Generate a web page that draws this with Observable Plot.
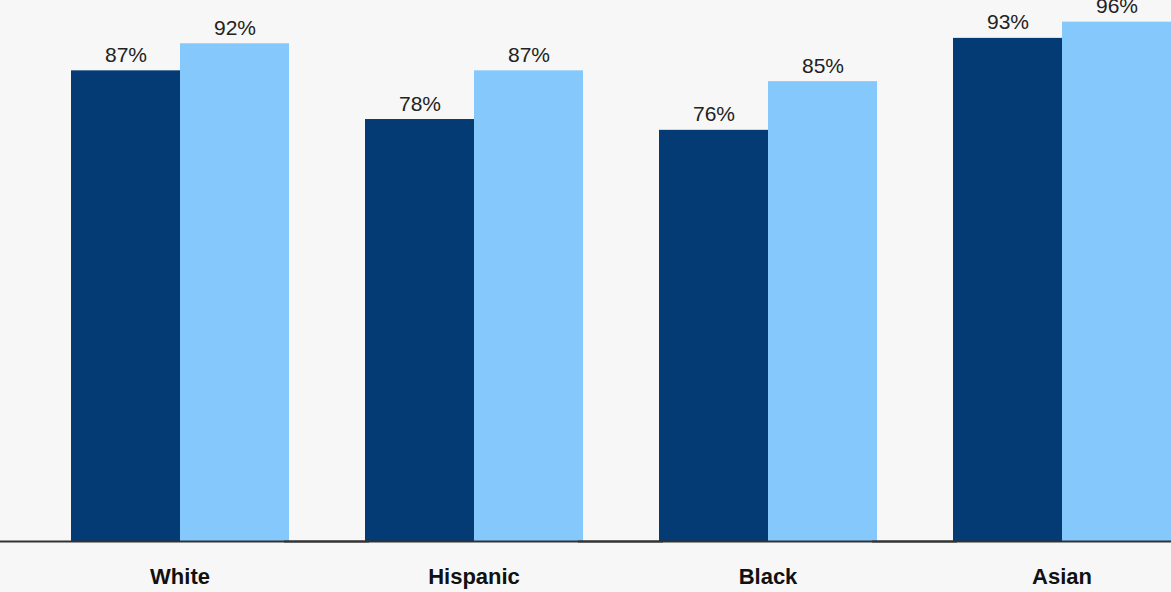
<!DOCTYPE html>
<html>
<head>
<meta charset="utf-8">
<script src="https://cdn.jsdelivr.net/npm/d3@7"></script>
<script src="https://cdn.jsdelivr.net/npm/@observablehq/plot@0.6"></script>
<style>
  html, body { margin: 0; padding: 0; background: #f7f7f7; overflow: hidden; }
  #chart svg { display: block; }
</style>
</head>
<body>
<div id="chart"></div>
<script>
const categories = ["White", "Hispanic", "Black", "Asian"];
const seriesNames = ["A", "B"];
const seriesA = [87, 78, 76, 93];
const seriesB = [92, 87, 85, 96];
const colors = ["#053b75", "#84c8fc"];

const data = [];
categories.forEach((c, i) => {
  data.push({category: c, series: seriesNames[0], value: seriesA[i]});
  data.push({category: c, series: seriesNames[1], value: seriesB[i]});
});

const chart = Plot.plot({
  width: 1171,
  height: 592,
  marginTop: 0,
  marginBottom: 51,
  marginLeft: 0,
  marginRight: 0,
  style: {background: "#f7f7f7", fontFamily: "Liberation Sans, Arial, sans-serif", overflow: "visible"},
  fx: {domain: categories, paddingInner: 0.254, paddingOuter: 0.112, align: 1, label: null, axis: null},
  x: {domain: seriesNames, padding: 0, axis: null},
  y: {domain: [0, 100], axis: null},
  color: {domain: seriesNames, range: colors},
  marks: [
    Plot.barY(data, {fx: "category", x: "series", y: "value", fill: "series"}),
    Plot.text(data, {fx: "category", x: "series", y: "value", text: d => d.value + "%",
      lineAnchor: "bottom", dy: -9, fontSize: 21, fill: "#222"}),
    Plot.ruleY([0], {stroke: "#333", strokeWidth: 2, insetLeft: -80, insetRight: -80}),
    Plot.axisFx({anchor: "bottom", tickSize: 0, tickPadding: 27, fontSize: 22, fontWeight: "bold", label: null, fill: "#111"})
  ]
});
document.getElementById("chart").appendChild(chart);
</script>
</body>
</html>
